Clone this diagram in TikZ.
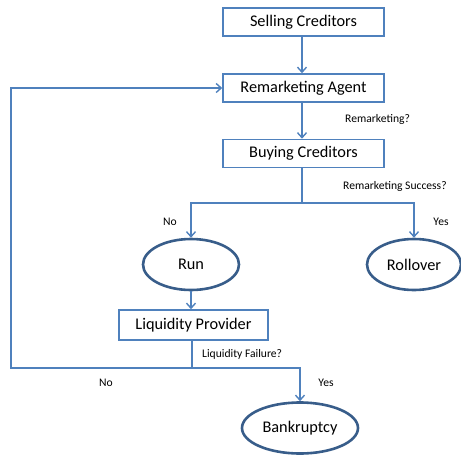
\documentclass[tikz,border=0pt]{standalone}
\usepackage{fontspec}
\setmainfont{Carlito}
\usetikzlibrary{shapes.geometric,arrows.meta}
\definecolor{lineblue}{HTML}{4F81BD}
\definecolor{darkblue}{HTML}{385D8A}
\begin{document}
\begin{tikzpicture}[x=1pt,y=-1pt,
  box/.style={draw=lineblue,line width=1.6pt,minimum width=161pt,minimum height=28pt,inner sep=0pt,font=\fontsize{16.3}{18}\selectfont,text=black},
  oval/.style={ellipse,draw=darkblue,line width=2.6pt,inner sep=0pt,font=\fontsize{16.3}{18}\selectfont,text=black},
  conn/.style={draw=lineblue,line width=1.4pt},
  arr/.style={conn,-{Straight Barb[length=5pt,width=9pt,line width=1.4pt]}},
  lbl/.style={font=\fontsize{11.6}{13}\selectfont,text=black,inner sep=0pt}]
\useasboundingbox (0,0) rectangle (461,456);
\node[box] (sell) at (303.5,22) {Selling Creditors};
\node[box] (agent) at (303.5,88) {Remarketing Agent};
\node[box] (buy) at (303.5,153.5) {Buying Creditors};
\node[oval,minimum width=96pt,minimum height=51pt] (run) at (191,264.5) {Run};
\node[oval,minimum width=94pt,minimum height=51pt] (roll) at (414,264.5) {Rollover};
\node[box,minimum width=149pt,minimum height=30pt] (liq) at (193.5,325) {Liquidity Provider};
\node[oval,minimum width=116pt,minimum height=51pt] (bank) at (300,428) {Bankruptcy};
\coordinate (split) at (302,203);
\coordinate (lsplit) at (192,368);
\coordinate (lc) at (11,368);
\coordinate (tc) at (11,88);
\draw[arr] (sell.south -| 302,0) -- (agent.north -| 302,0);
\draw[arr] (agent.south -| 302,0) -- (buy.north -| 302,0);
\draw[conn] (buy.south -| 302,0) -- (split);
\draw[arr] (split) -| (run.north);
\draw[arr] (split) -| (roll.north);
\draw[arr] (run.south) -- (run.south |- liq.north);
\draw[conn] (liq.south -| lsplit) -- (lsplit);
\draw[arr] (lsplit) -| (bank.north);
\draw[arr] (lsplit) -- (lc) -- (tc) -- (agent.west);
\node[lbl,anchor=west] (l1) at (345,119) {Remarketing?};
\node[lbl,anchor=west] (l2) at (343,186) {Remarketing Success?};
\node[lbl] (l3) at (170,222) {No};
\node[lbl] (l4) at (441,222) {Yes};
\node[lbl,anchor=west] (l5) at (202,354) {Liquidity Failure?};
\node[lbl] (l6) at (106,383) {No};
\node[lbl] (l7) at (326,383) {Yes};
\end{tikzpicture}
\end{document}
